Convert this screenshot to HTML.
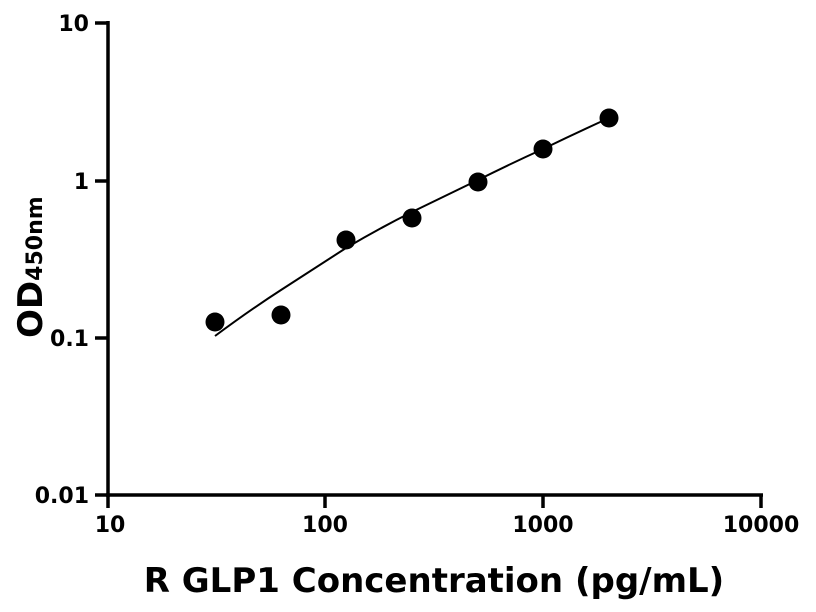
<!DOCTYPE html>
<html><head><meta charset="utf-8"><style>body{margin:0;background:#fff}svg{display:block}</style></head><body>
<svg width="816" height="612" xmlns="http://www.w3.org/2000/svg" font-family="DejaVu Sans, Liberation Sans, sans-serif" font-weight="bold">
<g stroke="#000" stroke-width="3.5" fill="none">
<line x1="108" y1="21" x2="108" y2="497"/>
<line x1="106" y1="495" x2="763" y2="495"/>
<line x1="95" y1="23" x2="108" y2="23"/>
<line x1="95" y1="181" x2="108" y2="181"/>
<line x1="95" y1="338" x2="108" y2="338"/>
<line x1="95" y1="495" x2="108" y2="495"/>
<line x1="108" y1="495" x2="108" y2="508"/>
<line x1="325" y1="495" x2="325" y2="508"/>
<line x1="543" y1="495" x2="543" y2="508"/>
<line x1="761" y1="495" x2="761" y2="508"/>
</g>
<g font-size="22" text-anchor="end">
<text x="89" y="31">10</text>
<text x="89" y="189">1</text>
<text x="89" y="346">0.1</text>
<text x="89" y="503">0.01</text>
</g>
<g font-size="22" text-anchor="middle">
<text x="110" y="532">10</text>
<text x="325" y="532">100</text>
<text x="543" y="532">1000</text>
<text x="761" y="532">10000</text>
</g>
<text x="434" y="592" font-size="34" text-anchor="middle">R GLP1 Concentration (pg/mL)</text>
<text transform="translate(42,338) rotate(-90)" font-size="34">OD<tspan font-size="22">450nm</tspan></text>
<path d="M215,336 Q250,310 281,290 Q315,268 346,248 Q380,228 412,212 Q445,196 478,180 Q510,164 543,149 Q576,133 609,118" stroke="#000" stroke-width="2" fill="none"/>
<g fill="#000">
<circle cx="215" cy="322" r="9.5"/>
<circle cx="281" cy="315" r="9.5"/>
<circle cx="346" cy="240" r="9.5"/>
<circle cx="412" cy="218" r="9.5"/>
<circle cx="478" cy="182" r="9.5"/>
<circle cx="543" cy="149" r="9.5"/>
<circle cx="609" cy="118" r="9.5"/>
</g>
</svg>
</body></html>
